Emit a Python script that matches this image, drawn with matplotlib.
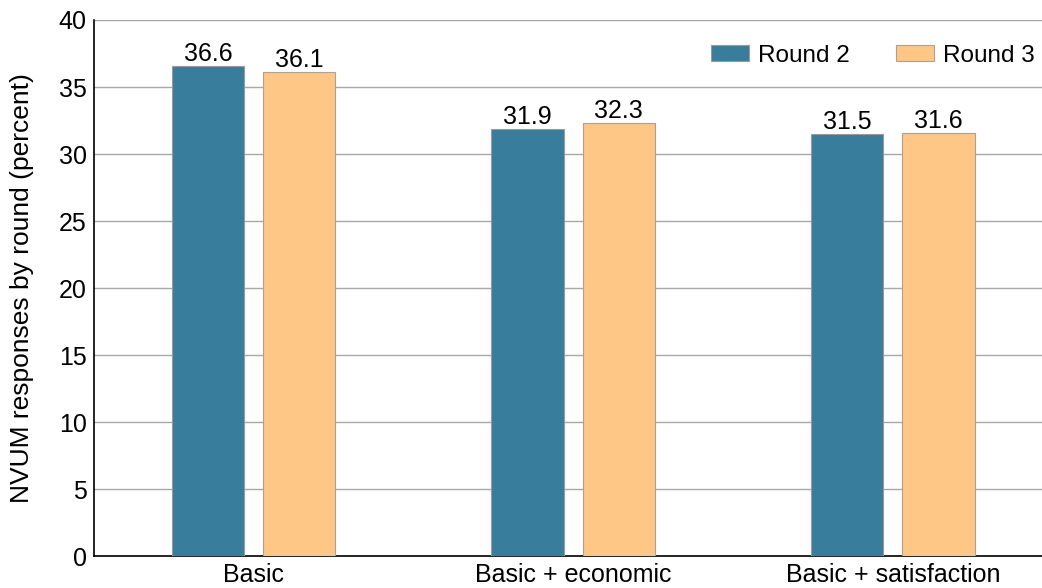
import matplotlib
matplotlib.use("Agg")
from matplotlib import pyplot as plt
import numpy as np

categories = ["Basic", "Basic + economic", "Basic + satisfaction"]
round2 = [36.6, 31.9, 31.5]
round3 = [36.1, 32.3, 31.6]
series_labels = ["Round 2", "Round 3"]

plt.rcParams["font.family"] = ["Liberation Sans", "DejaVu Sans"]
plt.rcParams["font.size"] = 18

fig = plt.figure(figsize=(10.42, 5.88), dpi=100)
ax = fig.add_axes([0.090, 0.054, 0.910, 0.912])

x = np.arange(len(categories))
w = 0.226
off = 0.143
b2 = ax.bar(x - off, round2, w, color="#387D9B", edgecolor="#9a9a9a", linewidth=0.8,
            label=series_labels[0], zorder=3)
b3 = ax.bar(x + off, round3, w, color="#FEC785", edgecolor="#b0a090", linewidth=0.8,
            label=series_labels[1], zorder=3)
for bars in (b2, b3):
    ax.bar_label(bars, labels=[f"{v:.1f}" for v in bars.datavalues], padding=0, fontsize=18)

ax.set_ylim(0, 40)
ax.set_yticks(np.arange(0, 41, 5))
ax.set_xlim(-0.50, 2.467)
ax.set_xticks(x)
ax.set_xticklabels(categories)
ax.tick_params(length=0, pad=5)
ax.yaxis.grid(True, color="#a8a8a8", linewidth=1)
ax.set_axisbelow(True)
for s in ("top", "right"):
    ax.spines[s].set_visible(False)
for s in ("left", "bottom"):
    ax.spines[s].set_color("black")
    ax.spines[s].set_linewidth(1.2)
ax.set_ylabel("NVUM responses by round (percent)", fontsize=19, labelpad=18)

ax.legend(ncol=2, frameon=False, loc="upper right", bbox_to_anchor=(1.015, 0.995),
          handlelength=1.56, handleheight=0.66, handletextpad=0.37,
          columnspacing=1.9, fontsize=17.5)

fig.savefig("out.png", dpi=100)
